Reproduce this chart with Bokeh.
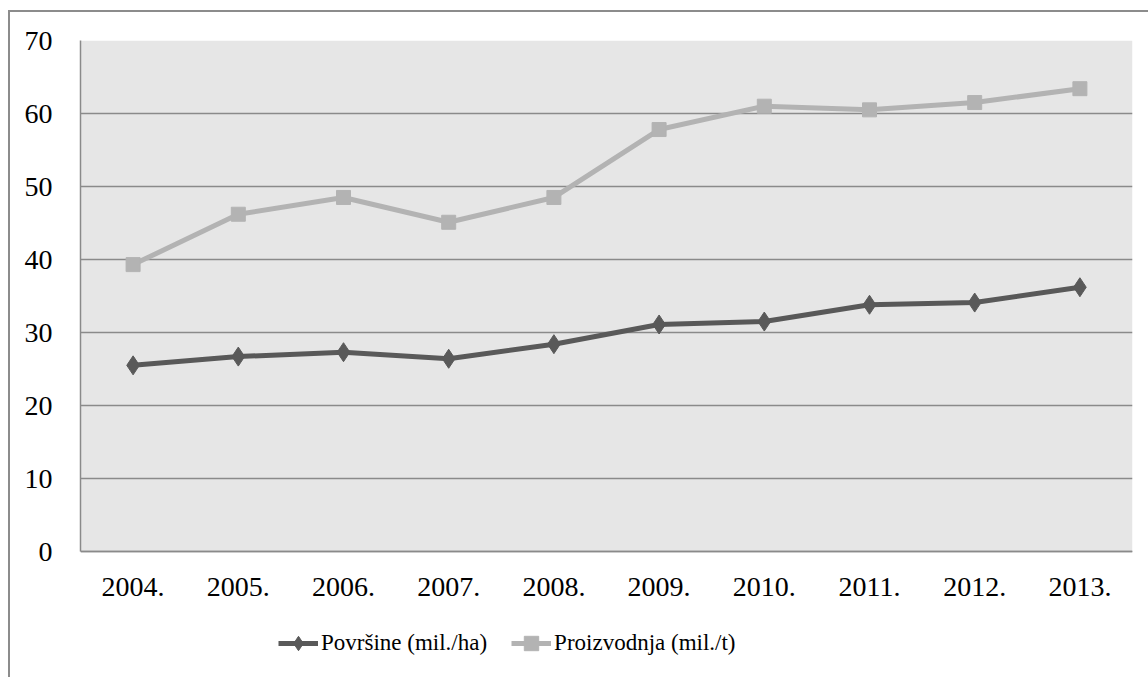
from bokeh.plotting import figure
from bokeh.models import (FactorRange, Range1d, FixedTicker, Legend, LegendItem,
                          ColumnDataSource, BoxAnnotation)
from bokeh.embed import file_html
from bokeh.resources import INLINE

years = ["2004.", "2005.", "2006.", "2007.", "2008.", "2009.", "2010.", "2011.", "2012.", "2013."]
povrsine = [25.5, 26.7, 27.3, 26.4, 28.4, 31.1, 31.5, 33.8, 34.1, 36.2]
proizvodnja = [39.3, 46.2, 48.5, 45.1, 48.5, 57.8, 61.0, 60.5, 61.5, 63.4]
y_ticks = [0, 10, 20, 30, 40, 50, 60, 70]
label_pov = "Površine (mil./ha)"
label_pro = "Proizvodnja (mil./t)"

FONT = "Liberation Serif"
DARK = "#595959"
LIGHT = "#b3b3b3"
GRID = "#8a8a8a"

Y_TOP = 70
FRAME_H = 637
PX_PER_UNIT = 7.3
Y_BOTTOM = Y_TOP - FRAME_H / PX_PER_UNIT  # room below zero for the x labels and legend

src = ColumnDataSource(dict(x=years, pov=povrsine, pro=proizvodnja))

p = figure(x_range=FactorRange(*years, range_padding=0), y_range=Range1d(Y_BOTTOM, Y_TOP),
           frame_width=1052, frame_height=FRAME_H,
           min_border_left=70, min_border_right=16, min_border_top=28, min_border_bottom=0,
           output_backend="svg", toolbar_location=None,
           background_fill_color="white", border_fill_color="white",
           styles={"border-left": "2px solid #8c8c8c", "border-top": "2px solid #8c8c8c",
                   "margin-left": "8px", "margin-top": "10px"})
p.outline_line_color = None

plot_area = BoxAnnotation(bottom=0, top=Y_TOP, fill_color="#e6e6e6", fill_alpha=1,
                          line_color=None, level="image")
p.add_layout(plot_area)

r1 = p.line("x", "pov", source=src, line_color=DARK, line_width=5)
m1 = p.scatter("x", "pov", source=src, marker="diamond", size=19, fill_color=DARK, line_color=DARK)
r2 = p.line("x", "pro", source=src, line_color=LIGHT, line_width=5)
m2 = p.scatter("x", "pro", source=src, marker="square", size=14, fill_color=LIGHT, line_color=LIGHT)

p.xgrid.grid_line_color = None
p.ygrid.grid_line_color = GRID
p.ygrid.grid_line_width = 1.5
p.yaxis.ticker = FixedTicker(ticks=y_ticks)
p.yaxis.bounds = (0, Y_TOP)
p.xaxis.fixed_location = 0

for ax in (p.xaxis[0], p.yaxis[0]):
    ax.axis_line_color = GRID
    ax.axis_line_width = 1.5
    ax.major_tick_line_color = None
    ax.minor_tick_line_color = None
    ax.major_label_text_font = FONT
    ax.major_label_text_font_size = "28px"
    ax.major_label_text_color = "black"
p.yaxis.major_label_standoff = 22
p.xaxis.major_label_standoff = 20

legend = Legend(items=[LegendItem(label=label_pov, renderers=[r1, m1]),
                       LegendItem(label=label_pro, renderers=[r2, m2])],
                orientation="horizontal", location=(198, 16),
                label_text_font=FONT, label_text_font_size="23px", label_text_color="black",
                glyph_width=40, glyph_height=36, label_standoff=3, spacing=24,
                border_line_color=None, background_fill_alpha=0, padding=0, margin=0)
p.add_layout(legend, "center")

open("out.html", "w").write(file_html(p, INLINE))
